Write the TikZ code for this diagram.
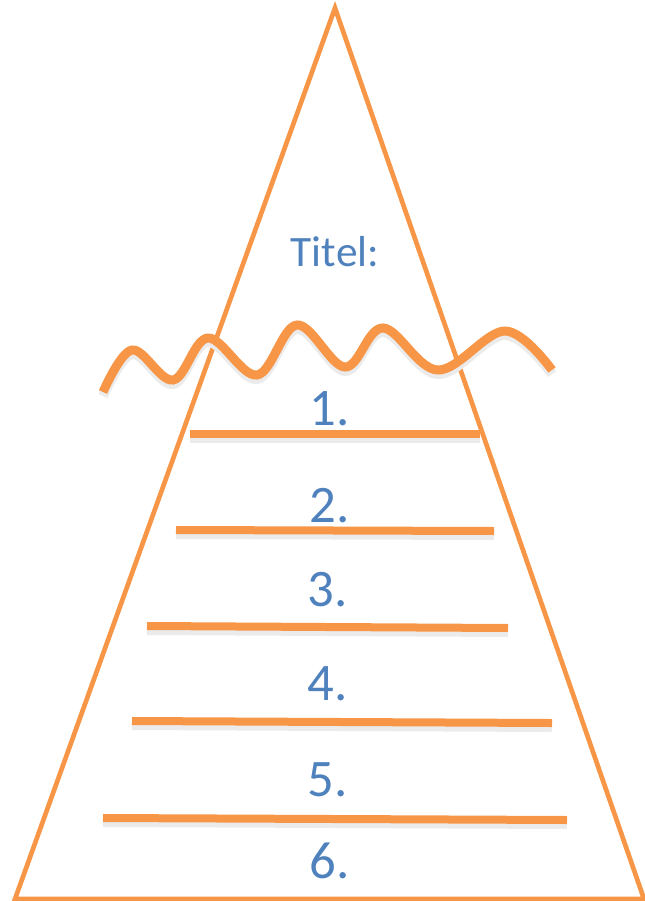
\documentclass[tikz,border=0pt]{standalone}
\usepackage{fontspec}
\setmainfont{Carlito}
\usepackage{tikz}
\usetikzlibrary{positioning}
\definecolor{pyrOrange}{HTML}{F79646}
\definecolor{pyrBlue}{HTML}{4F81BD}

\tikzset{
  bar/.style={draw=pyrOrange, line width=0.24cm,
    preaction={draw=black!8, line width=0.3cm, transform canvas={yshift=-0.12cm}}},
  wave/.style={draw=pyrOrange, line width=0.27cm,
    preaction={draw=black!8, line width=0.3cm, transform canvas={yshift=-0.12cm}}},
  num/.style={text=pyrBlue, font=\fontsize{45}{50}\selectfont, inner sep=0pt}
}

\begin{document}
\begin{tikzpicture}[x=0.03cm, y=-0.03cm]
  \useasboundingbox (0,0) rectangle (644,901);

  %% pyramid
  \coordinate (apex) at (335,8);
  \coordinate (baseL) at (15,899);
  \coordinate (baseR) at (644,899);
  \draw[pyrOrange, line width=0.14cm, line join=miter] (baseL) -- (apex) -- (baseR) -- cycle;

  %% water line
  \draw[wave] plot[smooth, tension=0.6] coordinates {(103,392) (132,350) (173,380) (208,338)
    (257,375) (297,325) (345,367) (383,328) (438,370) (505,331) (552,370)};

  \node[text=pyrBlue, font=\fontsize{37}{42}\selectfont, inner sep=0pt] (titel) at (335,252) {Titel:};

  %% levels
  \foreach \x/\y/\z/\w in {190/434/480/434, 176/530/494/531, 147/626/508/628,
                           132/721/552/723, 103/818/567/820}
    \draw[bar] (\x,\y) -- (\z,\w);

  \node[num] (n1) at (330,409) {1.};
  \node[num] (n2) at (330,506) {2.};
  \node[num] (n3) at (328,590) {3.};
  \node[num] (n4) at (328,684) {4.};
  \node[num] (n5) at (328,780) {5.};
  \node[num] (n6) at (330,861) {6.};
\end{tikzpicture}
\end{document}
